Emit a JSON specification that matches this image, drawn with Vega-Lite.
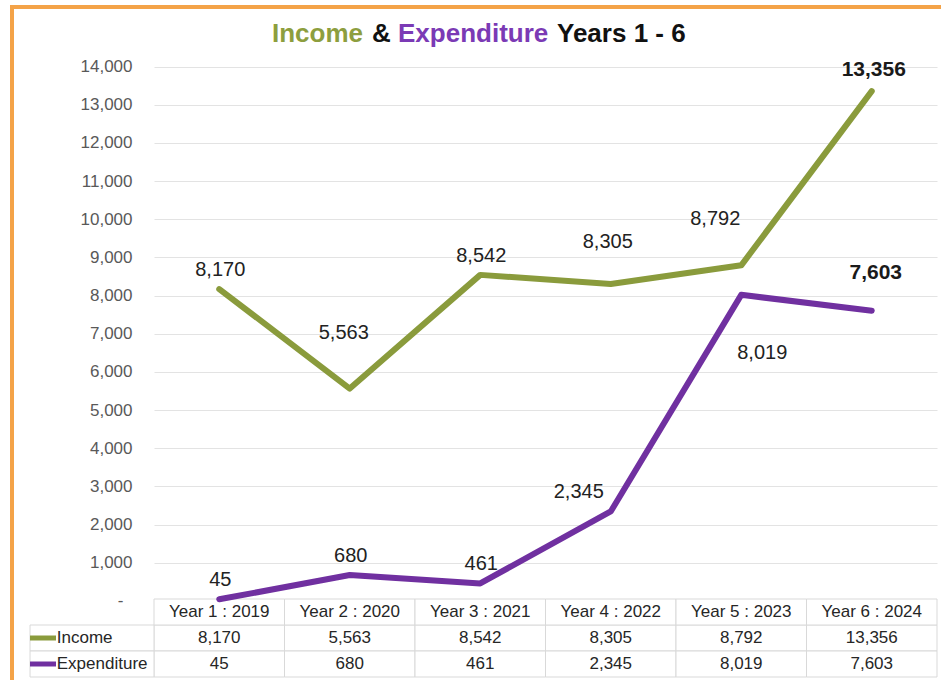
{
  "$schema": "https://vega.github.io/schema/vega-lite/v6.json",
  "width": 935,
  "height": 680,
  "autosize": {"type": "none"},
  "padding": {"left": 12, "top": 7, "right": -6, "bottom": -7},
  "background": "white",
  "config": {
    "view": {"stroke": "#F4A348", "strokeWidth": 4},
    "font": "Liberation Sans",
    "text": {"font": "Liberation Sans"}
  },
  "data": {
    "values": [
      {"year": "Year 1 : 2019", "series": "Income", "value": 8170},
      {"year": "Year 2 : 2020", "series": "Income", "value": 5563},
      {"year": "Year 3 : 2021", "series": "Income", "value": 8542},
      {"year": "Year 4 : 2022", "series": "Income", "value": 8305},
      {"year": "Year 5 : 2023", "series": "Income", "value": 8792},
      {"year": "Year 6 : 2024", "series": "Income", "value": 13356},
      {"year": "Year 1 : 2019", "series": "Expenditure", "value": 45},
      {"year": "Year 2 : 2020", "series": "Expenditure", "value": 680},
      {"year": "Year 3 : 2021", "series": "Expenditure", "value": 461},
      {"year": "Year 4 : 2022", "series": "Expenditure", "value": 2345},
      {"year": "Year 5 : 2023", "series": "Expenditure", "value": 8019},
      {"year": "Year 6 : 2024", "series": "Expenditure", "value": 7603}
    ]
  },
  "resolve": {"scale": {"y": "independent"}},
  "layer": [
    {
      "layer": [
        {
          "mark": {"type": "rect", "fill": "white", "stroke": "#D9D9D9", "strokeWidth": 1},
          "encoding": {
            "x": {"field": "year", "type": "ordinal", "scale": {"type": "band", "domain": ["Year 1 : 2019","Year 2 : 2020","Year 3 : 2021","Year 4 : 2022","Year 5 : 2023","Year 6 : 2024"], "range": [142, 925], "paddingInner": 0, "paddingOuter": 0}, "axis": null},
            "y": {"field": "series", "type": "nominal", "scale": {"type": "band", "domain": ["Year", "Income", "Expenditure"], "range": [592, 670], "paddingInner": 0, "paddingOuter": 0}, "axis": null}
          }
        },
        {
          "transform": [{"filter": "datum.series == 'Income'"}],
          "mark": {"type": "rect", "fill": "white", "stroke": "#D9D9D9", "strokeWidth": 1},
          "encoding": {
            "x": {"field": "year", "type": "ordinal"},
            "y": {"datum": "Year", "type": "nominal"}
          }
        },
        {
          "transform": [{"filter": "datum.year == 'Year 1 : 2019'"}],
          "mark": {"type": "rect", "fill": "white", "stroke": "#D9D9D9", "strokeWidth": 1},
          "encoding": {
            "x": {"datum": "Year 1 : 2019", "type": "ordinal", "bandPosition": -0.95},
            "x2": {"datum": "Year 1 : 2019", "bandPosition": 0},
            "y": {"field": "series", "type": "nominal"}
          }
        },
        {
          "transform": [{"filter": "datum.year == 'Year 1 : 2019'"}],
          "mark": {"type": "rule", "strokeWidth": 5},
          "encoding": {
            "x": {"datum": "Year 1 : 2019", "type": "ordinal", "bandPosition": -0.95},
            "x2": {"datum": "Year 1 : 2019", "bandPosition": -0.751},
            "y": {"field": "series", "type": "nominal", "bandPosition": 0.5},
            "color": {"field": "series", "type": "nominal", "scale": {"domain": ["Income", "Expenditure"], "range": ["#8A9B3C", "#7030A0"]}, "legend": null}
          }
        },
        {
          "transform": [{"filter": "datum.year == 'Year 1 : 2019'"}],
          "mark": {"type": "text", "align": "left", "baseline": "middle", "fontSize": 17, "color": "#262626"},
          "encoding": {
            "x": {"datum": "Year 1 : 2019", "type": "ordinal", "bandPosition": -0.745},
            "y": {"field": "series", "type": "nominal", "bandPosition": 0.5},
            "text": {"field": "series", "type": "nominal"}
          }
        },
        {
          "mark": {"type": "text", "align": "center", "baseline": "middle", "fontSize": 17, "color": "#262626"},
          "encoding": {
            "x": {"field": "year", "type": "ordinal", "bandPosition": 0.5},
            "y": {"field": "series", "type": "nominal", "bandPosition": 0.5},
            "text": {"field": "value", "type": "quantitative", "format": ","}
          }
        },
        {
          "transform": [{"filter": "datum.series == 'Income'"}],
          "mark": {"type": "text", "align": "center", "baseline": "middle", "fontSize": 17, "color": "#262626"},
          "encoding": {
            "x": {"field": "year", "type": "ordinal", "bandPosition": 0.5},
            "y": {"datum": "Year", "type": "nominal", "bandPosition": 0.5},
            "text": {"field": "year", "type": "nominal"}
          }
        }
      ]
    },
    {
      "layer": [
        {
          "mark": {"type": "line", "strokeWidth": 6, "strokeCap": "round", "strokeJoin": "round"},
          "encoding": {
            "x": {"field": "year", "type": "ordinal", "bandPosition": 0.5},
            "y": {
              "field": "value", "type": "quantitative",
              "scale": {"domain": [-2252.6, 15558.5], "nice": false, "zero": false},
              "axis": {
                "orient": "left", "offset": -120, "title": null, "domain": false, "ticks": false, "tickSize": 0,
                "labelPadding": {"condition": {"test": "datum.value == 0", "value": 9}, "value": 0},
                "values": [0, 1000, 2000, 3000, 4000, 5000, 6000, 7000, 8000, 9000, 10000, 11000, 12000, 13000, 14000],
                "labelFontSize": 17, "labelColor": "#595959", "labelFont": "Liberation Sans",
                "labelExpr": "datum.value == 0 ? '-' : format(datum.value, ',')",
                "grid": true, "gridColor": "#E3E3E3", "gridWidth": 1,
                "gridOpacity": {"condition": {"test": "datum.value == 0", "value": 0}, "value": 1}
              }
            },
            "color": {"field": "series", "type": "nominal"}
          }
        },
        {
          "transform": [{"filter": {"field": "value", "oneOf": [8170, 8542, 45, 680, 461]}}],
          "mark": {"type": "text", "fontSize": 20, "dx": 1, "dy": -19, "baseline": "middle", "color": "#222222"},
          "encoding": {
            "x": {"field": "year", "type": "ordinal", "bandPosition": 0.5},
            "y": {"field": "value", "type": "quantitative"},
            "text": {"field": "value", "type": "quantitative", "format": ","}
          }
        },
        {
          "transform": [{"filter": {"field": "value", "oneOf": [5563]}}],
          "mark": {"type": "text", "fontSize": 20, "dx": -6, "dy": -56, "baseline": "middle", "color": "#222222"},
          "encoding": {
            "x": {"field": "year", "type": "ordinal", "bandPosition": 0.5},
            "y": {"field": "value", "type": "quantitative"},
            "text": {"field": "value", "type": "quantitative", "format": ","}
          }
        },
        {
          "transform": [{"filter": {"field": "value", "oneOf": [8305]}}],
          "mark": {"type": "text", "fontSize": 20, "dx": -3, "dy": -42, "baseline": "middle", "color": "#222222"},
          "encoding": {
            "x": {"field": "year", "type": "ordinal", "bandPosition": 0.5},
            "y": {"field": "value", "type": "quantitative"},
            "text": {"field": "value", "type": "quantitative", "format": ","}
          }
        },
        {
          "transform": [{"filter": {"field": "value", "oneOf": [8792]}}],
          "mark": {"type": "text", "fontSize": 20, "dx": -26, "dy": -46, "baseline": "middle", "color": "#222222"},
          "encoding": {
            "x": {"field": "year", "type": "ordinal", "bandPosition": 0.5},
            "y": {"field": "value", "type": "quantitative"},
            "text": {"field": "value", "type": "quantitative", "format": ","}
          }
        },
        {
          "transform": [{"filter": {"field": "value", "oneOf": [2345]}}],
          "mark": {"type": "text", "fontSize": 20, "dx": -32, "dy": -19, "baseline": "middle", "color": "#222222"},
          "encoding": {
            "x": {"field": "year", "type": "ordinal", "bandPosition": 0.5},
            "y": {"field": "value", "type": "quantitative"},
            "text": {"field": "value", "type": "quantitative", "format": ","}
          }
        },
        {
          "transform": [{"filter": {"field": "value", "oneOf": [8019]}}],
          "mark": {"type": "text", "fontSize": 20, "dx": 21, "dy": 58, "baseline": "middle", "color": "#222222"},
          "encoding": {
            "x": {"field": "year", "type": "ordinal", "bandPosition": 0.5},
            "y": {"field": "value", "type": "quantitative"},
            "text": {"field": "value", "type": "quantitative", "format": ","}
          }
        },
        {
          "transform": [{"filter": {"field": "value", "oneOf": [7603]}}],
          "mark": {"type": "text", "fontSize": 21, "fontWeight": "bold", "dx": 4, "dy": -38, "baseline": "middle", "color": "#1A1A1A"},
          "encoding": {
            "x": {"field": "year", "type": "ordinal", "bandPosition": 0.5},
            "y": {"field": "value", "type": "quantitative"},
            "text": {"field": "value", "type": "quantitative", "format": ","}
          }
        },
        {
          "transform": [{"filter": {"field": "value", "oneOf": [13356]}}],
          "mark": {"type": "text", "fontSize": 21, "fontWeight": "bold", "dx": 2, "dy": -21, "baseline": "middle", "color": "#1A1A1A"},
          "encoding": {
            "x": {"field": "year", "type": "ordinal", "bandPosition": 0.5},
            "y": {"field": "value", "type": "quantitative"},
            "text": {"field": "value", "type": "quantitative", "format": ","}
          }
        },
        {
          "data": {"values": [{"word": "Income"}]},
          "mark": {"type": "text", "fontSize": 26, "fontWeight": "bold", "align": "left", "baseline": "middle", "dx": 118, "color": "#8D9E3E"},
          "encoding": {
            "x": {"datum": "Year 1 : 2019", "type": "ordinal", "bandPosition": 0},
            "y": {"datum": 14851, "type": "quantitative"},
            "text": {"field": "word", "type": "nominal"}
          }
        },
        {
          "data": {"values": [{"word": "&"}]},
          "mark": {"type": "text", "fontSize": 26, "fontWeight": "bold", "align": "left", "baseline": "middle", "dx": 218, "color": "#111111"},
          "encoding": {
            "x": {"datum": "Year 1 : 2019", "type": "ordinal", "bandPosition": 0},
            "y": {"datum": 14851, "type": "quantitative"},
            "text": {"field": "word", "type": "nominal"}
          }
        },
        {
          "data": {"values": [{"word": "Expenditure"}]},
          "mark": {"type": "text", "fontSize": 26, "fontWeight": "bold", "align": "left", "baseline": "middle", "dx": 244, "color": "#7B3AB5"},
          "encoding": {
            "x": {"datum": "Year 1 : 2019", "type": "ordinal", "bandPosition": 0},
            "y": {"datum": 14851, "type": "quantitative"},
            "text": {"field": "word", "type": "nominal"}
          }
        },
        {
          "data": {"values": [{"word": "Years 1 - 6"}]},
          "mark": {"type": "text", "fontSize": 26, "fontWeight": "bold", "align": "left", "baseline": "middle", "dx": 403, "color": "#111111"},
          "encoding": {
            "x": {"datum": "Year 1 : 2019", "type": "ordinal", "bandPosition": 0},
            "y": {"datum": 14851, "type": "quantitative"},
            "text": {"field": "word", "type": "nominal"}
          }
        }
      ]
    }
  ]
}
